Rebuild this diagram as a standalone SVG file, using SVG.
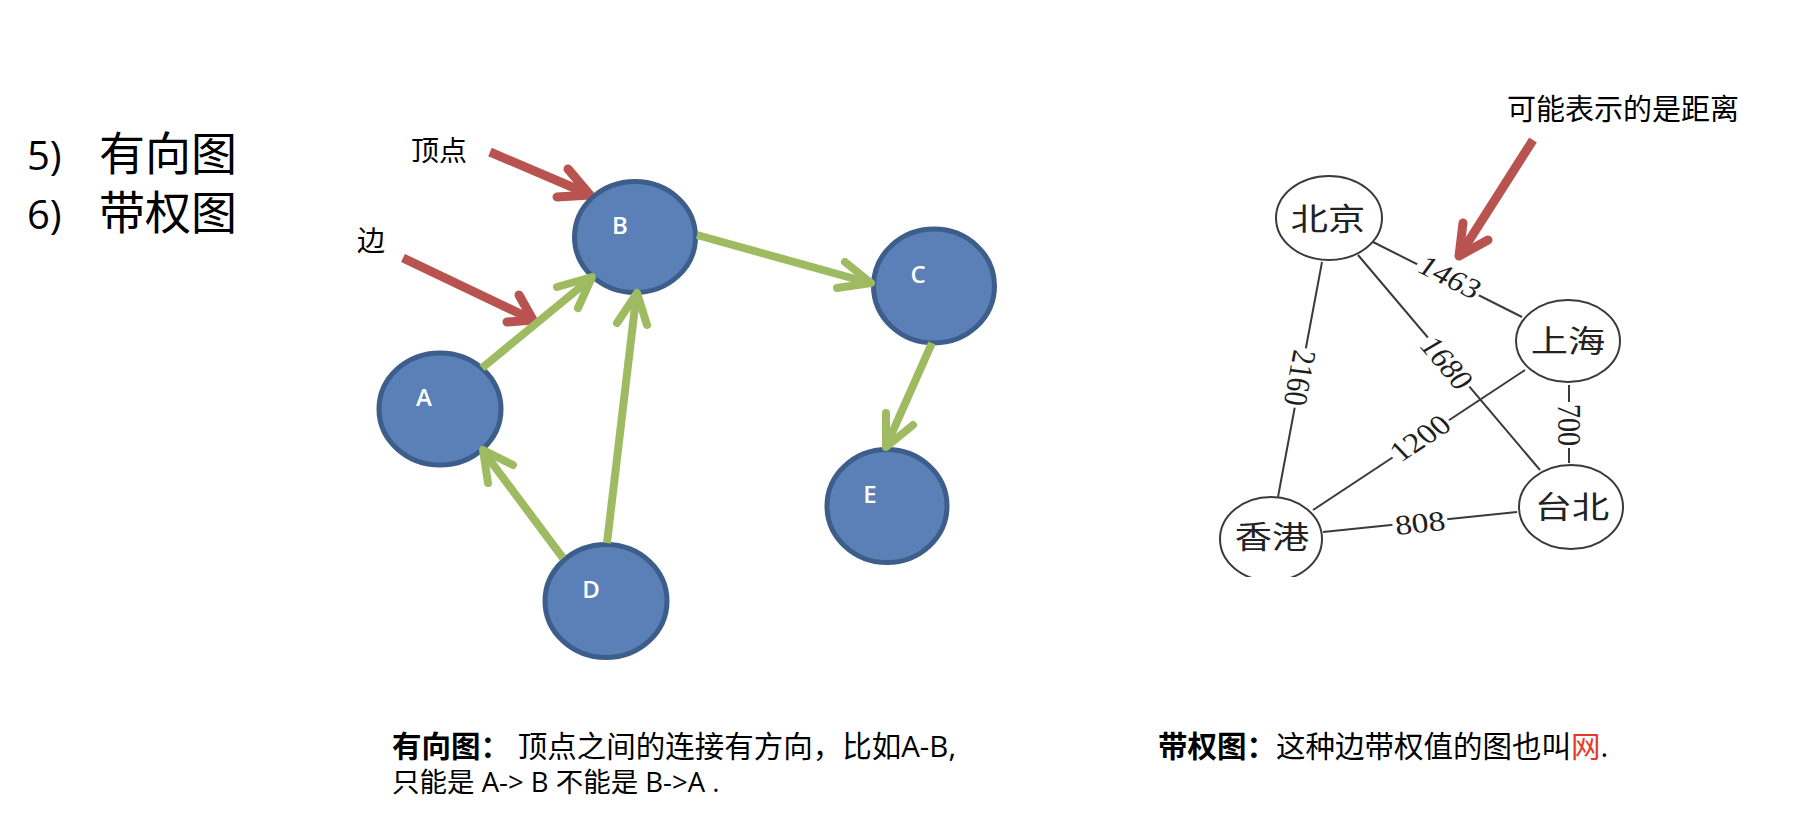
<svg xmlns="http://www.w3.org/2000/svg" width="1806" height="822" viewBox="0 0 1806 822">
<style>
.node ellipse{fill:#5a80b7;stroke:#3d5d8a;stroke-width:5}
.nl{font-family:"Open Sans","Liberation Sans",sans-serif;font-size:24px;font-weight:600;fill:#fff;text-anchor:middle}
.gs{fill:none;stroke:#9fbb62;stroke-width:8;stroke-linecap:butt}
.gh{fill:none;stroke:#9fbb62;stroke-width:8;stroke-linecap:round;stroke-linejoin:round}
.rs{fill:none;stroke:#b9534f;stroke-width:9;stroke-linecap:butt}
.rh{fill:none;stroke:#b9534f;stroke-width:9;stroke-linecap:round;stroke-linejoin:round}
.cjk{font-family:"Noto Sans CJK SC",sans-serif;fill:#000}
.txt{font-family:"Open Sans","Noto Sans CJK SC",sans-serif;fill:#000}
.we{stroke:#3a3a3a;stroke-width:2;fill:none}
.wn ellipse{fill:#fff;stroke:#3a3a3a;stroke-width:2}
.city{font-family:"Noto Sans CJK SC",sans-serif;font-size:31px;fill:#222;text-anchor:middle}
.wl{font-family:"Liberation Serif",serif;font-size:28px;fill:#1e1e1e;text-anchor:middle}
</style>
<defs>
<clipPath id="clipW"><rect x="1180" y="150" width="520" height="427"/></clipPath>
</defs>
<rect width="1806" height="822" fill="#fff"/>

<!-- left title -->
<g id="title">
<text x="27" y="170" font-family="Open Sans, sans-serif" font-size="40">5)</text>
<text x="99" y="170" class="cjk" font-size="46">有向图</text>
<text x="27" y="229" font-family="Open Sans, sans-serif" font-size="40">6)</text>
<text x="99" y="229" class="cjk" font-size="46">带权图</text>
</g>

<!-- annotations -->
<g id="ann-vertex">
<text x="411" y="161" class="cjk" font-size="28">顶点</text>
<path class="rs" d="M490 152 L586 193"/>
<path class="rh" d="M568 169 L590 195 L557 197"/>
</g>
<g id="ann-edge">
<text x="357" y="251" class="cjk" font-size="28">边</text>
<path class="rs" d="M403 258 L529 318"/>
<path class="rh" d="M519 295 L533 320 L507 322"/>
</g>

<!-- directed graph nodes -->
<g id="node-B" class="node"><ellipse cx="635" cy="237" rx="60.5" ry="55.5"/><text class="nl" x="620" y="234">B</text></g>
<g id="node-C" class="node"><ellipse cx="934" cy="286" rx="60.5" ry="57"/><text class="nl" x="918" y="283">C</text></g>
<g id="node-A" class="node"><ellipse cx="440" cy="409" rx="61" ry="56"/><text class="nl" x="424" y="406">A</text></g>
<g id="node-E" class="node"><ellipse cx="887" cy="506" rx="60" ry="56.5"/><text class="nl" x="870" y="503">E</text></g>
<g id="node-D" class="node"><ellipse cx="606" cy="601" rx="61" ry="56.5"/><text class="nl" x="591" y="598">D</text></g>

<!-- directed connectors -->
<g id="connectors">
<path class="gs" d="M482 368 L589 280"/>
<path class="gh" d="M557 287 L592 277 L578 308"/>
<path class="gs" d="M607 543 L636 298"/>
<path class="gh" d="M617 323 L637 293 L647 325"/>
<path class="gs" d="M697 235 L866 282"/>
<path class="gh" d="M845 262 L871 283 L837 288"/>
<path class="gs" d="M932 343 L888 442"/>
<path class="gh" d="M886 413 L886 447 L913 425"/>
<path class="gs" d="M563 558 L486 455"/>
<path class="gh" d="M513 465 L483 450 L488 483"/>
</g>

<!-- weighted graph -->
<g id="weighted" clip-path="url(#clipW)">
<g id="w-edges">
<line class="we" x1="1373" y1="242" x2="1522" y2="317"/>
<line class="we" x1="1358" y1="255" x2="1540" y2="470"/>
<line class="we" x1="1322" y1="262" x2="1278" y2="497"/>
<line class="we" x1="1525" y1="370" x2="1313" y2="510"/>
<line class="we" x1="1569" y1="385" x2="1569" y2="463"/>
<line class="we" x1="1323" y1="532" x2="1517" y2="512"/>
</g>
<g id="w-labels">
<g transform="translate(1450 277) scale(1.2 1) rotate(31.2)"><rect x="-30" y="-11" width="60" height="22" fill="#fff"/><text class="wl" y="9.5">1463</text></g>
<g transform="translate(1447 363) scale(1.2 1) rotate(54.8)"><rect x="-30" y="-11" width="60" height="22" fill="#fff"/><text class="wl" y="9.5">1680</text></g>
<g transform="translate(1300 378) scale(1.2 1) rotate(98.9)"><rect x="-30" y="-11" width="60" height="22" fill="#fff"/><text class="wl" y="9.5">2160</text></g>
<g transform="translate(1420 438) scale(1.2 1) rotate(-38.4)"><rect x="-30" y="-11" width="60" height="22" fill="#fff"/><text class="wl" y="9.5">1200</text></g>
<g transform="translate(1569 425) scale(1.2 1) rotate(90)"><rect x="-23" y="-11" width="46" height="22" fill="#fff"/><text class="wl" y="9.5">700</text></g>
<g transform="translate(1420 523) scale(1.2 1) rotate(-7)"><rect x="-23" y="-11" width="46" height="22" fill="#fff"/><text class="wl" y="9.5">808</text></g>
</g>
<g id="w-beijing" class="wn"><ellipse cx="1329" cy="218" rx="53" ry="42"/><text class="city" transform="translate(1328 230) scale(1.2 1)">北京</text></g>
<g id="w-shanghai" class="wn"><ellipse cx="1568" cy="341" rx="52" ry="41"/><text class="city" transform="translate(1568 352) scale(1.2 1)">上海</text></g>
<g id="w-taipei" class="wn"><ellipse cx="1571" cy="507" rx="52" ry="42"/><text class="city" transform="translate(1572 518) scale(1.2 1)">台北</text></g>
<g id="w-hongkong" class="wn"><ellipse cx="1271" cy="539" rx="51" ry="42"/><text class="city" transform="translate(1272 548) scale(1.2 1)">香港</text></g>
</g>

<g id="ann-distance">
<text x="1507" y="120" class="cjk" font-size="29">可能表示的是距离</text>
<path class="rs" d="M1533 140 L1463 250"/>
<path class="rh" d="M1463 223 L1459 256 L1488 240"/>
</g>

<!-- captions -->
<g id="caption-left" class="txt">
<text x="392" y="757" font-size="29.5"><tspan font-weight="bold">有向图：</tspan> 顶点之间的连接有方向，比如A-B,</text>
<text x="392" y="792" font-size="27.5">只能是 A-&gt; B 不能是 B-&gt;A .</text>
</g>
<g id="caption-right" class="txt">
<text x="1158" y="757" font-size="29.5"><tspan font-weight="bold">带权图：</tspan>这种边带权值的图也叫<tspan fill="#e53a2a">网</tspan>.</text>
</g>
</svg>
